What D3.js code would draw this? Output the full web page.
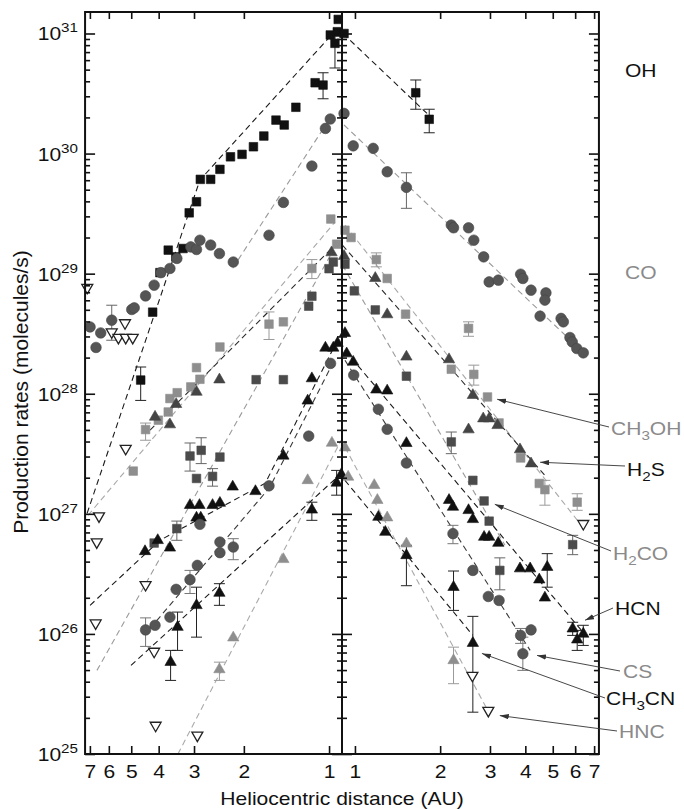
<!DOCTYPE html>
<html><head><meta charset="utf-8">
<script src="https://cdn.jsdelivr.net/npm/d3@7/dist/d3.min.js"></script>
<style>
html,body{margin:0;padding:0;background:#fff;}
svg text{font-family:"Liberation Sans",Arial,Helvetica,sans-serif;}
</style></head>
<body><svg id="chart" width="684" height="809"></svg>
<script>
// ================= DATA =================
// heliocentric distance ticks (AU) and decade exponents
const distanceTicks = [1,2,3,4,5,6,7];
const rateExponents = [25,26,27,28,29,30,31];

// points: [r (AU), Q (molecules/s), (Qlow, Qhigh)]
const ohPre = [[4.63,1.30e28,0.88e28,1.67e28],[4.20,4.78e28],[3.96,1.02e29],[3.70,1.57e29],[3.48,1.38e29],[3.28,1.62e29],[3.12,3.21e29],[2.94,3.97e29],[2.85,6.10e29],[2.62,6.10e29],[2.43,7.39e29],[2.23,9.40e29],[2.03,9.85e29],[1.85,1.14e30],[1.70,1.40e30],[1.54,1.90e30],[1.44,1.73e30],[1.31,2.43e30],[1.12,3.89e30],[1.05,3.72e30,2.86e30,4.71e30],[0.99,9.72e30],[0.953,8.28e30,5.16e30,9.5e30],[0.935,1.035e31],[0.928,1.31e31]];
const ohPost = [[0.915,1.0e31],[1.64,3.21e30,2.34e30,4.10e30],[1.83,1.93e30,1.49e30,2.34e30]];
const ohFitPre = [[7.16,1.01e27],[2.86,6.02e29],[0.945,1.07e31]];
const ohFitPost = [[0.907,1.0e31],[1.84,2.05e30]];

const coPre = [[6.99,3.60e28],[6.66,2.43e28],[6.41,3.21e28],[5.86,4.10e28,2.79e28,5.46e28],[4.98,5.03e28],[4.88,5.19e28],[4.45,6.53e28],[4.15,8.02e28],[3.93,1.02e29],[3.65,1.105e29],[3.45,1.34e29],[3.08,1.67e29],[2.94,1.59e29],[2.86,1.90e29],[2.62,1.73e29],[2.44,1.47e29],[2.18,1.25e29],[1.63,2.09e29],[1.45,3.92e29],[1.15,7.87e29],[1.03,1.62e30],[0.99,1.94e30]];
const coPost = [[0.915,2.16e30],[0.986,1.16e30],[1.16,1.105e30],[1.30,7.05e29],[1.52,5.23e29,3.50e29,6.92e29],[2.19,2.54e29],[2.23,2.41e29],[2.52,2.41e29],[2.63,1.90e29],[2.85,1.38e29],[2.98,8.54e28],[3.21,8.83e28],[3.85,9.9e28],[3.92,9.12e28],[4.19,7.29e28],[4.73,6.92e28],[4.69,6.02e28],[4.51,4.43e28],[5.35,4.24e28],[5.45,3.97e28],[5.75,2.94e28],[5.86,2.70e28],[6.08,2.38e28],[6.41,2.19e28]];
const coFitPre = [[2.19,1.11e29],[0.99,1.98e30]];
const coFitPost = [[0.915,1.73e30],[6.40,2.22e28]];

const ch3ohPre = [[4.92,2.27e27],[4.45,5.03e27,4.1e27,5.7e27],[4.01,6.02e27],[3.70,7.05e27],[3.65,9.12e27],[3.44,1.02e28],[3.08,1.14e28],[2.94,1.65e28],[2.86,1.32e28],[2.43,2.45e28],[1.63,3.80e28,2.83e28,4.8e28],[1.45,3.97e28],[1.15,1.105e29,9.1e28,1.31e29],[0.986,2.85e29],[0.94,1.76e29]];
const ch3ohPost = [[0.922,2.30e29],[0.969,2.00e29],[1.19,1.31e29,1.14e29,1.49e29],[1.30,9.12e28],[1.51,4.60e28],[2.52,3.50e28,3.01e28,3.97e28],[2.19,1.60e28],[2.63,1.45e28,1.18e28,1.73e28],[2.94,9.40e27],[3.23,5.71e27],[3.85,2.92e27],[4.48,1.79e27],[4.69,1.59e27,1.18e27,1.90e27],[6.10,1.25e27,1.07e27,1.47e27]];
const ch3ohFitPre = [[7.11,9.7e26],[0.953,2.69e29]];
const ch3ohFitPost = [[0.922,2.54e29],[6.39,7.72e26]];

const h2sPre = [[4.12,6.41e27],[3.65,5.54e27],[3.47,8.18e27],[2.94,1.035e28],[2.44,1.31e28],[0.98,1.5e29]];
const h2sPost = [[0.915,1.40e29],[1.18,9.17e28],[1.30,4.57e28],[1.52,2.03e28],[2.15,1.93e28],[2.61,9.72e27],[2.52,5.03e27],[2.84,6.21e27],[2.98,6.21e27],[3.19,5.46e27],[3.83,3.43e27],[4.19,2.62e27]];
const h2sFitPre = [[4.29,4.97e27],[0.953,1.73e29]];
const h2sFitPost = [[0.903,1.73e29],[4.69,2.09e27]];

const h2coPre = [[4.15,5.71e26],[3.45,7.53e26,6.02e26,8.7e26],[3.10,3.03e27,2.27e27,3.89e27],[2.83,3.38e27,2.62e27,4.3e27],[2.94,1.97e27],[2.58,2.05e27,1.70e27,2.38e27],[2.43,2.97e27],[1.81,1.31e28],[1.45,1.31e28],[1.18,5.36e28],[1.15,6.49e28],[1.00,1.10e29],[0.966,1.25e29]];
const h2coPost = [[0.922,1.20e29],[0.995,7.19e28],[1.18,4.99e28],[1.52,1.40e28],[2.19,3.97e27,3.17e27,4.8e27],[2.61,1.90e27],[2.86,1.28e27],[2.98,8.69e26],[3.25,3.38e26,2.33e26,4.3e26],[5.88,5.54e26,4.57e26,6.62e26]];
const h2coFitPre = [[6.61,4.97e25],[0.966,1.57e29]];
const h2coFitPost = [[0.903,1.18e29],[3.39,5.47e26]];

const hcnPre = [[4.47,4.87e26],[4.03,6.02e26],[3.65,5.21e26],[3.10,1.18e27],[2.87,1.18e27],[2.58,1.18e27],[2.43,1.23e27],[2.94,9.26e26],[2.84,9.26e26],[2.19,1.68e27],[1.82,1.54e27],[1.45,3.04e27],[1.19,8.74e27],[1.15,1.34e28],[1.03,2.41e28],[0.966,2.41e28],[0.933,2.64e28]];
const hcnPost = [[0.922,3.19e28],[0.935,2.16e28],[0.986,1.84e28],[1.19,1.08e28],[1.30,1.06e28],[1.52,3.87e27],[2.15,1.30e27],[2.22,1.14e27],[2.52,1.07e27],[2.61,9.0e26],[2.86,6.41e26],[2.98,6.41e26],[3.21,5.71e26],[3.83,3.50e26],[4.16,3.50e26],[4.48,2.83e26],[4.78,3.60e26,2.45e26,4.66e26],[4.69,2.00e26],[5.88,1.105e26,9.72e25,1.25e26],[6.10,8.95e25,7.29e25,1.07e26],[6.41,1.0e26,8.02e25,1.18e26]];
const hcnFitPre = [[6.99,1.73e26],[3.96,6.02e26],[1.68,1.80e27],[0.945,2.64e28]];
const hcnFitPost = [[0.922,2.30e28],[6.40,1.03e26]];

const csPre = [[4.45,1.08e26,7.87e25,1.36e26],[4.12,1.18e26],[3.65,1.38e26],[3.47,2.35e26],[3.10,2.83e26,2.17e26,3.38e26],[2.92,3.72e26],[2.43,5.82e26],[2.43,4.75e26],[2.18,5.29e26,4.15e26,6.21e26],[2.86,8.18e26],[1.63,1.71e27],[1.18,4.44e27],[0.988,1.79e28]];
const csPost = [[0.99,1.43e28],[1.21,7.43e27],[1.30,5.06e27],[1.52,2.65e27],[2.22,6.84e26,5.64e26,8.02e26],[2.61,3.38e26],[2.96,2.05e26],[3.23,1.90e26],[3.85,9.72e25,8.34e25,1.11e26],[4.19,1.08e26],[3.92,6.84e25,4.97e25,9.4e25]];
const csFitPre = [[4.29,1.11e26],[1.62,1.66e27],[0.966,1.83e28]];
const csFitPost = [[0.922,1.90e28],[4.16,7.29e25]];

const ch3cnPre = [[3.63,5.82e25,4.10e25,7.29e25],[3.43,1.14e26,7.29e25,1.52e26],[2.94,1.73e26,9.4e25,2.45e26],[2.44,2.19e26,1.73e26,2.62e26],[1.15,1.08e27,8.83e26,1.25e27],[0.94,1.81e27,1.43e27,2.30e27],[0.905,2.13e27]];
const ch3cnPost = [[1.21,9.40e26],[1.28,7.05e26],[1.52,4.51e26,2.52e26,5.47e26],[2.23,2.45e26,1.57e26,3.34e26],[2.61,8.38e25,2.23e25,1.40e26]];
const ch3cnFitPre = [[5.01,5.47e25],[0.945,1.98e27]];
const ch3cnFitPost = [[0.922,1.90e27],[2.61,9.72e25]];

const hncPre = [[2.44,5.06e25,4.1e25,5.82e25],[2.18,9.30e25],[1.45,4.18e26],[1.19,1.90e27],[0.977,3.89e27]];
const hncPost = [[0.922,3.56e27],[0.946,2.03e27],[1.17,1.73e27],[1.20,1.30e27],[1.30,9.30e26],[1.52,5.64e26],[2.23,6.02e25,3.85e25,7.76e25]];
const hncFitPre = [[3.42,1.0e25],[0.906,4.10e27]];
const hncFitPost = [[0.922,3.58e27],[2.95,2.30e25]];

// upper limits (open inverted triangles)
const limitsPre = [[7.15,7.67e28],[5.86,3.27e28],[5.55,2.94e28],[5.23,2.94e28],[4.94,2.94e28],[5.26,3.89e28],[5.23,3.50e27],[6.50,9.59e26],[6.62,5.82e26],[4.45,2.57e26],[6.68,1.23e26],[4.15,7.15e25],[4.10,1.73e25],[2.92,1.43e25]];
const limitsPost = [[6.41,8.28e26],[2.60,4.51e25],[2.96,2.30e25]];

// species labels and where their arrows point (data coords)
const speciesNames = ['OH','CO','CH3OH','H2S','H2CO','HCN','CS','CH3CN','HNC'];
const arrowTips = {CH3OH:[3.18,9.0e27], H2S:[4.51,2.69e27], H2CO:[3.12,1.20e27], HCN:[6.50,1.30e26], CS:[4.40,6.62e25], CH3CN:[2.81,6.88e25], HNC:[3.25,2.09e25]};

// ================= STYLE / LAYOUT =================
const BLACK='#111', DARK='#4b4b4b', MID='#555', LIGHT='#8e8e8e', LBL_GRAY='#8a8a8a';
const style = {
  OH:   {shape:'square',  fill:BLACK, line:'#1a1a1a', err:'#222', lbl:BLACK},
  CO:   {shape:'circle',  fill:MID,   line:'#9a9a9a', err:'#666', lbl:LBL_GRAY},
  CH3OH:{shape:'square',  fill:LIGHT, line:'#a8a8a8', err:'#9a9a9a', lbl:LBL_GRAY},
  H2S:  {shape:'triangle',fill:'#444',line:'#2a2a2a', err:'#444', lbl:BLACK},
  H2CO: {shape:'square',  fill:DARK,  line:'#9a9a9a', err:'#666', lbl:LBL_GRAY},
  HCN:  {shape:'triangle',fill:BLACK, line:'#1a1a1a', err:'#222', lbl:BLACK},
  CS:   {shape:'circle',  fill:MID,   line:'#3a3a3a', err:'#777', lbl:LBL_GRAY},
  CH3CN:{shape:'triangle',fill:BLACK, line:'#1a1a1a', err:'#222', lbl:BLACK},
  HNC:  {shape:'triangle',fill:LIGHT, line:'#aaaaaa', err:'#9a9a9a', lbl:LBL_GRAY}
};
const seriesData = {
  OH:[ohPre,ohPost,ohFitPre,ohFitPost], CO:[coPre,coPost,coFitPre,coFitPost],
  CH3OH:[ch3ohPre,ch3ohPost,ch3ohFitPre,ch3ohFitPost], H2S:[h2sPre,h2sPost,h2sFitPre,h2sFitPost],
  H2CO:[h2coPre,h2coPost,h2coFitPre,h2coFitPost], HCN:[hcnPre,hcnPost,hcnFitPre,hcnFitPost],
  CS:[csPre,csPost,csFitPre,csFitPost], CH3CN:[ch3cnPre,ch3cnPost,ch3cnFitPre,ch3cnFitPost],
  HNC:[hncPre,hncPost,hncFitPre,hncFitPost]
};
const labelPos = {OH:[625,77], CO:[625,279], CH3OH:[611,435], H2S:[627,476], H2CO:[613,560], HCN:[615,615], CS:[623,678], CH3CN:[606,705], HNC:[619,738]};
const arrowStart = {CH3OH:[609,427], H2S:[625,466], H2CO:[611,551], HCN:[613,608], CS:[620,671], CH3CN:[605,698], HNC:[617,731]};

const M = {top:12, bottom:754, mid:342};
const PX_DEC = 283, Q_PERI = 0.9, R_MAX = 7.28;
const span = PX_DEC*Math.log10(R_MAX/Q_PERI);
const xL = M.mid - span, xR = M.mid + span;
const SX = 1.17; // horizontal text stretch of the original

const xPre = d3.scaleLog().domain([R_MAX,Q_PERI]).range([xL, M.mid]);
const xPost = d3.scaleLog().domain([Q_PERI,R_MAX]).range([M.mid, xR]);
const y = d3.scaleLog().domain([1e25, 1.51e31]).range([M.bottom, M.top]);

const svg = d3.select('#chart');
const defs = svg.append('defs');
defs.append('clipPath').attr('id','cpre').append('rect').attr('x',xL).attr('y',M.top).attr('width',M.mid-xL).attr('height',M.bottom-M.top);
defs.append('clipPath').attr('id','cpost').append('rect').attr('x',M.mid).attr('y',M.top).attr('width',xR-M.mid).attr('height',M.bottom-M.top);
defs.append('marker').attr('id','arr').attr('viewBox','0 0 10 6').attr('refX',10).attr('refY',3)
  .attr('markerWidth',9).attr('markerHeight',5.5).attr('markerUnits','userSpaceOnUse').attr('orient','auto')
  .append('path').attr('d','M0,0 L10,3 L0,6 Z').attr('fill','#333');

// ---------- fit lines ----------
const gLines = svg.append('g');
speciesNames.forEach(k=>{
  const [pre,post,fp,fq] = seriesData[k];
  const st = style[k];
  [[fp,xPre,'cpre'],[fq,xPost,'cpost']].forEach(([pts,xs,cp])=>{
    gLines.append('path').datum(pts).attr('clip-path',`url(#${cp})`)
      .attr('d', d3.line().x(d=>xs(d[0])).y(d=>y(d[1])))
      .attr('fill','none').attr('stroke',st.line).attr('stroke-width',1.1).attr('stroke-dasharray','6,4');
  });
});

// ---------- error bars ----------
const gErr = svg.append('g');
speciesNames.forEach(k=>{
  const [pre,post] = seriesData[k];
  const st = style[k];
  [[pre,xPre],[post,xPost]].forEach(([pts,xs])=>{
    pts.filter(d=>d.length>3).forEach(d=>{
      const cx = xs(d[0]), y0 = y(d[2]), y1 = y(d[3]);
      const g = gErr.append('g').attr('stroke',st.err).attr('stroke-width',1);
      g.append('line').attr('x1',cx).attr('x2',cx).attr('y1',y0).attr('y2',y1);
      g.append('line').attr('x1',cx-5.5).attr('x2',cx+5.5).attr('y1',y0).attr('y2',y0);
      g.append('line').attr('x1',cx-5.5).attr('x2',cx+5.5).attr('y1',y1).attr('y2',y1);
    });
  });
});

// ---------- markers ----------
const sym = {
  square: d3.symbol(d3.symbolSquare).size(74)(),
  circle: d3.symbol(d3.symbolCircle).size(88)(),
  triangle: d3.symbol(d3.symbolTriangle).size(56)()
};
const gPts = svg.append('g');
speciesNames.forEach(k=>{
  const [pre,post] = seriesData[k];
  const st = style[k];
  [[pre,xPre],[post,xPost]].forEach(([pts,xs])=>{
    gPts.append('g').selectAll('path').data(pts).join('path')
      .attr('d', sym[st.shape])
      .attr('transform', d=>`translate(${xs(d[0])},${y(d[1])})`)
      .attr('fill', st.fill)
      .attr('stroke', st.shape==='circle' ? '#444' : st.fill).attr('stroke-width',0.6);
  });
});
const limSym = d3.symbol(d3.symbolTriangle).size(52)();
[[limitsPre,xPre],[limitsPost,xPost]].forEach(([pts,xs])=>{
  gPts.append('g').selectAll('path').data(pts).join('path')
    .attr('d', limSym)
    .attr('transform', d=>`translate(${xs(d[0])},${y(d[1])}) rotate(180)`)
    .attr('fill','#fff').attr('stroke','#222').attr('stroke-width',1.3);
});

// ---------- axes ----------
const gAx = svg.append('g').attr('color','#111');
function styleAxis(g){ g.select('.domain').remove(); g.selectAll('.tick line').attr('stroke-width',1.6); return g; }
const majors = rateExponents.map(e=>Math.pow(10,e));
const minors = [];
rateExponents.slice(0,-1).forEach(e=>{ for(let m=2;m<=9;m++) minors.push(m*Math.pow(10,e)); });

// bottom axes with labels
[[xPre],[xPost]].forEach(([xs])=>{
  const g = gAx.append('g').attr('transform',`translate(0,${M.bottom})`)
    .call(d3.axisBottom(xs).tickValues(distanceTicks).tickFormat(d3.format('d')).tickSizeInner(-8).tickSizeOuter(0).tickPadding(11));
  styleAxis(g);
  g.selectAll('.tick text').attr('font-size',18).attr('fill','#111').attr('transform',`scale(${SX},1)`);
  const t = gAx.append('g').attr('transform',`translate(0,${M.top})`)
    .call(d3.axisTop(xs).tickValues(distanceTicks).tickFormat('').tickSizeInner(-7).tickSizeOuter(0));
  styleAxis(t);
});
// left / right / middle y ticks
function yTicks(axisFn, x, vals, size){
  const g = gAx.append('g').attr('transform',`translate(${x},0)`)
    .call(axisFn(y).tickValues(vals).tickFormat('').tickSizeInner(size).tickSizeOuter(0));
  styleAxis(g);
}
yTicks(d3.axisLeft, xL, majors, -10); yTicks(d3.axisLeft, xL, minors, -5);
yTicks(d3.axisRight, xR, majors, -10); yTicks(d3.axisRight, xR, minors, -5);
yTicks(d3.axisLeft, M.mid, majors, 10); yTicks(d3.axisLeft, M.mid, minors, 5);
yTicks(d3.axisRight, M.mid, majors, 10); yTicks(d3.axisRight, M.mid, minors, 5);

// frame and divider
gAx.append('rect').attr('x',xL).attr('y',M.top).attr('width',xR-xL).attr('height',M.bottom-M.top)
  .attr('fill','none').attr('stroke','#111').attr('stroke-width',2);
gAx.append('line').attr('x1',M.mid).attr('x2',M.mid).attr('y1',M.top).attr('y2',M.bottom)
  .attr('stroke','#111').attr('stroke-width',2);

// y tick labels 10^n
rateExponents.forEach(e=>{
  const t = gAx.append('text').attr('transform',`translate(78,${y(Math.pow(10,e))+7}) scale(${SX},1)`)
    .attr('text-anchor','end').attr('fill','#111').attr('font-size',18);
  t.append('tspan').text('10');
  t.append('tspan').attr('font-size',13).attr('dy',-8).text(String(e));
});

// axis titles
svg.append('text').attr('transform',`translate(${M.mid},805) scale(${SX},1)`).attr('text-anchor','middle')
  .attr('font-size',18).attr('fill','#111').text('Heliocentric distance (AU)');
svg.append('text').attr('transform','translate(28,392) rotate(-90)').attr('text-anchor','middle')
  .attr('font-size',21).attr('fill','#111').text('Production rates (molecules/s)');

// ---------- species labels & arrows ----------
const gLbl = svg.append('g');
speciesNames.forEach(k=>{
  const [lx,ly] = labelPos[k];
  const t = gLbl.append('text').attr('transform',`translate(${lx},${ly}) scale(${SX},1)`)
    .attr('font-size',18).attr('fill',style[k].lbl);
  const parts = k.match(/[A-Za-z]+|\d+/g);
  let sub = false;
  parts.forEach(p=>{
    const isNum = /^\d+$/.test(p);
    const ts = t.append('tspan').text(p);
    if(isNum){ ts.attr('font-size',13).attr('dy',5); sub = true; }
    else if(sub){ ts.attr('dy',-5); sub = false; }
  });
  if(arrowTips[k]){
    const [sx,sy] = arrowStart[k];
    const tip = arrowTips[k];
    gLbl.append('line').attr('x1',sx).attr('y1',sy).attr('x2',xPost(tip[0])).attr('y2',y(tip[1]))
      .attr('stroke','#333').attr('stroke-width',0.9).attr('marker-end','url(#arr)');
  }
});
</script>
</body></html>
